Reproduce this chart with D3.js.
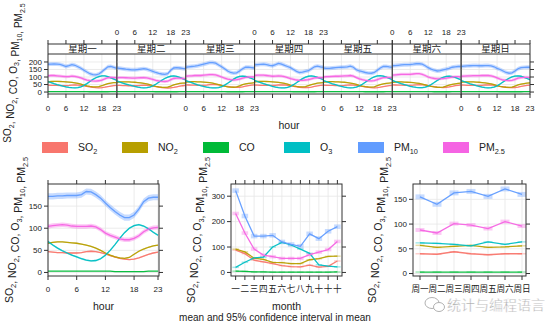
<!DOCTYPE html>
<html><head><meta charset="utf-8">
<script src="https://cdn.jsdelivr.net/npm/d3@7"></script>
<style>body{margin:0;background:#fff}svg{display:block;font-family:"Liberation Sans",Arial,sans-serif}</style>
</head><body><svg id="c" width="554" height="328"></svg>
<script>
const pollutants = ["SO2","NO2","CO","O3","PM10","PM2.5"];
const colors = ["#F8766D","#B79F00","#00BA38","#00BFC4","#619CFF","#F564E3"];
const dayLabels = ["星期一","星期二","星期三","星期四","星期五","星期六","星期日"];
const monthLabels = ["一","二","三","四","五","六","七","八","九","十","十","十"];
const weekdayLabels = ["周一","周二","周三","周四","周五","周六","周日"];
const hourTicks = [0,6,12,18,23];
const topYTicks = [0,50,100,150,200];
const hourYTicks = [0,50,100,150];
const monthYTicks = [0,100,200,300];
const weekdayYTicks = [0,50,100,150];

// day x hour (Mon..Sun, 0..23)
const dayHourSO2 = [
[46,45,44,44,43,43,43,44,46,47,46,44,41,37,34,31,29,28,29,32,36,40,43,45],
[45,44,43,43,42,42,42,43,45,46,45,43,40,36,33,30,28,27,28,31,35,39,42,44],
[48,47,46,46,45,45,45,46,49,50,49,47,44,40,37,34,32,31,32,35,39,43,46,48],
[47,46,45,45,44,44,44,45,47,48,47,45,42,38,35,32,30,29,30,33,37,41,44,46],
[46,45,44,44,43,43,43,44,46,47,46,44,41,37,34,31,29,28,29,32,36,40,43,45],
[48,47,46,46,45,45,45,46,48,49,48,46,43,39,36,33,31,30,31,34,38,42,45,47],
[47,46,45,45,44,44,44,45,47,48,47,45,42,38,35,32,30,29,30,33,37,41,44,46]];
const dayHourNO2 = [
[68,70,71,71,70,69,68,66,64,61,57,52,46,41,37,35,34,36,42,50,56,60,62,63],
[65,67,68,68,67,66,65,63,61,58,54,49,43,38,34,32,31,33,40,48,53,57,59,60],
[66,68,69,69,68,67,66,64,62,59,55,50,44,39,35,33,32,34,41,49,54,58,60,62],
[68,70,71,71,70,69,68,66,64,61,57,52,46,41,37,35,34,36,43,50,55,59,61,63],
[66,68,69,69,68,67,66,65,63,60,56,51,45,40,36,34,33,35,42,49,54,58,60,62],
[64,66,67,67,66,65,64,62,60,57,53,48,42,37,34,32,31,33,39,46,51,55,58,60],
[65,67,68,68,67,66,65,63,61,58,54,49,43,38,34,32,31,33,40,47,52,56,59,61]];
const dayHourCO = [
[3,3,3,3,3,3,3,3,3,3,3,3,3,3,2,2,2,2,2,2,2,3,3,3],
[3,3,3,3,3,3,3,3,3,3,3,3,3,2,2,2,2,2,2,2,2,3,3,3],
[3,3,3,3,3,3,3,3,3,3,3,3,3,3,2,2,2,2,2,2,3,3,3,3],
[3,3,3,3,3,3,3,3,3,3,3,3,3,2,2,2,2,2,2,2,2,3,3,3],
[3,3,3,3,3,3,3,3,3,3,3,3,3,3,2,2,2,2,2,2,2,3,3,3],
[3,3,3,3,3,3,3,3,3,3,3,3,3,3,2,2,2,2,2,2,3,3,3,3],
[3,3,3,3,3,3,3,3,3,3,3,3,3,2,2,2,2,2,2,2,2,3,3,3]];
const dayHourO3 = [
[70,63,56,50,45,40,35,31,29,28,30,35,44,56,70,84,95,103,108,108,102,94,86,78],
[74,66,59,53,47,42,37,33,30,28,29,33,41,52,65,78,90,99,105,107,104,97,89,80],
[76,69,62,55,48,42,37,33,30,28,28,30,36,46,58,72,86,97,104,106,104,98,90,82],
[77,70,63,56,50,44,38,33,30,28,28,31,38,49,62,76,89,99,105,107,104,98,90,82],
[76,69,62,55,49,43,38,33,30,28,29,33,41,52,65,79,92,101,107,109,106,99,91,83],
[77,70,63,56,50,44,38,34,31,29,29,32,39,50,63,77,89,98,104,106,103,97,89,81],
[76,69,62,55,49,43,38,33,30,28,29,33,41,53,67,80,92,101,106,108,105,98,90,82]];
const dayHourPM10 = [
[185,186,187,186,184,178,170,175,182,178,168,158,145,133,122,116,114,120,135,152,168,170,164,158],
[160,158,155,152,150,148,148,150,153,156,152,145,138,130,124,120,118,122,145,160,162,160,157,155],
[165,168,170,172,175,180,185,190,196,196,192,180,168,155,140,130,126,128,140,155,165,166,163,160],
[180,182,184,185,183,178,175,182,190,186,178,170,162,150,138,130,132,138,142,155,168,172,168,165],
[160,158,158,160,162,164,165,166,168,172,165,148,140,135,130,126,125,130,145,160,170,170,167,165],
[175,176,178,180,182,182,183,185,188,188,185,175,162,152,145,140,142,148,152,158,165,168,170,170],
[170,172,174,175,176,176,175,175,176,176,174,168,158,150,140,130,125,128,140,155,162,164,165,165]];
const dayHourPM25 = [
[108,110,110,108,106,104,102,103,106,104,100,94,86,80,76,74,73,75,80,88,95,97,96,95],
[95,96,96,95,94,93,93,94,95,96,94,90,84,78,74,71,70,72,82,90,92,92,90,88],
[105,107,108,110,110,110,112,114,116,116,114,108,100,92,86,82,80,82,86,92,98,100,100,100],
[110,112,112,112,110,108,105,106,108,106,102,96,90,85,80,78,78,80,82,88,94,96,95,95],
[100,102,103,104,105,105,106,107,108,110,106,96,88,82,78,75,74,76,82,90,96,98,96,95],
[112,114,116,118,118,118,118,120,122,122,118,110,100,94,90,88,88,90,92,96,100,102,102,100],
[105,106,107,108,109,109,109,110,110,110,108,102,94,86,80,78,76,78,84,92,96,98,98,96]];

// hour of day
const hourSO2 = [47,46,45,45,44,44,44,45,47,48,47,45,42,38,35,32,30,29,30,33,37,41,44,46];
const hourNO2 = [66,68,69,69,68,67,66,64,62,59,55,50,44,39,35,33,32,34,41,48,53,57,60,62];
const hourCO = [3,3,3,3,3,3,3,3,3,3,3,3,3,3,2,2,2,2,2,2,2,3,3,3];
const hourO3 = [70,62,55,49,44,39,35,31,28,26,27,31,39,50,63,77,90,100,106,108,105,99,91,84];
const hourPM10 = [172,172,173,173,174,174,174,176,183,182,176,168,157,147,138,130,124,124,130,143,160,168,170,170];
const hourPM25 = [104,106,107,108,107,105,104,104,104,105,103,97,89,84,80,76,74,74,77,83,92,98,101,102];

// month
const monthSO2 = [88,74,48,42,35,27,23,22,29,21,24,45];
const monthNO2 = [92,81,56,51,40,39,35,35,50,54,63,64];
const monthCO = [5,4,2,2,1,1,1,1,1,1,1,2];
const monthO3 = [20,40,57,60,100,118,108,92,75,30,25,22];
const monthPM10 = [322,222,143,143,146,120,110,103,152,133,162,180];
const monthPM25 = [232,155,92,68,62,55,55,55,70,80,90,122];

// weekday
const weekdaySO2 = [40,39,44,40,38,40,40];
const weekdayNO2 = [57,53,55,57,53,54,56];
const weekdayCO = [3,3,3,3,3,3,3];
const weekdayO3 = [62,61,59,56,64,59,64];
const weekdayPM10 = [155,140,163,166,156,171,160];
const weekdayPM25 = [88,82,101,98,91,105,96];

// CI half widths per pollutant
const ciDayHour = [3,4,0.5,5,13,10];
const ciHour = [1.5,1.5,0.3,2,7,5];
const ciMonth = [3,3,0.5,3,9,7];
const ciWeekday = [1.5,1.5,0.3,1.5,5,4];

const dayHourData = [dayHourSO2,dayHourNO2,dayHourCO,dayHourO3,dayHourPM10,dayHourPM25];
const hourData = [hourSO2,hourNO2,hourCO,hourO3,hourPM10,hourPM25];
const monthData = [monthSO2,monthNO2,monthCO,monthO3,monthPM10,monthPM25];
const weekdayData = [weekdaySO2,weekdayNO2,weekdayCO,weekdayO3,weekdayPM10,weekdayPM25];

const svg = d3.select("#c");
const ink = "#222", frame = "#333", gridC = "#e6e6e6";
const tickFont = 8;

function subText(sel, parts, fs){
  parts.forEach(p=>{
    if(p[1]){
      sel.append("tspan").attr("font-size",fs*0.7).attr("dy",fs*0.28).text(p[0]);
      sel.append("tspan").attr("dy",-fs*0.28).text("");
    } else sel.append("tspan").text(p[0]);
  });
}
const ylabParts = [["SO",0],["2",1],[", NO",0],["2",1],[", CO, O",0],["3",1],[", PM",0],["10",1],[", PM",0],["2.5",1]];
const legParts = [[["SO",0],["2",1]],[["NO",0],["2",1]],[["CO",0]],[["O",0],["3",1]],[["PM",0],["10",1]],[["PM",0],["2.5",1]]];

function yTitle(x,y,fs){
  const t = svg.append("text").attr("transform",`translate(${x},${y}) rotate(-90)`)
    .attr("text-anchor","middle").attr("font-size",fs).attr("fill",ink);
  subText(t, ylabParts, fs);
}

let clipId=0;
function clip(x0,y0,x1,y1){
  const id="cl"+(clipId++);
  svg.append("clipPath").attr("id",id).append("rect").attr("x",x0).attr("y",y0).attr("width",x1-x0).attr("height",y1-y0);
  return `url(#${id})`;
}

function drawSeries(g, xs, ys, xvals, series, ci, mode, boxW){
  series.forEach((vals,i)=>{
    if(mode==="band"){
      const area = d3.area().x((d,j)=>xs(xvals[j])).y0(d=>ys(d-ci[i])).y1(d=>ys(d+ci[i]));
      g.append("path").attr("d",area(vals)).attr("fill",colors[i]).attr("fill-opacity",0.35);
    } else {
      vals.forEach((v,j)=>{
        const h = Math.max(ys(v-ci[i])-ys(v+ci[i]),1.5);
        g.append("rect").attr("x",xs(xvals[j])-boxW/2).attr("y",ys(v)-h/2).attr("width",boxW).attr("height",h)
          .attr("fill",colors[i]).attr("fill-opacity",0.35);
      });
    }
  });
  series.forEach((vals,i)=>{
    const line = d3.line().x((d,j)=>xs(xvals[j])).y(d=>ys(d));
    g.append("path").attr("d",line(vals)).attr("fill","none").attr("stroke",colors[i])
      .attr("stroke-width",1.3).attr("stroke-opacity",0.95);
  });
}

const hours = d3.range(24);

// ---------- TOP PANEL ----------
const tL=48, tR=530, sTop=44, pTop=54, pBot=94;
const pw=(tR-tL)/7;
const yTop = d3.scaleLinear().domain([-13,253]).range([pBot,pTop]);
dayLabels.forEach((lab,d)=>{
  const x0=tL+d*pw, x1=x0+pw;
  const xs=d3.scaleLinear().domain([0,23]).range([x0,x1]);
  const g=svg.append("g");
  hourTicks.forEach(h=>g.append("line").attr("x1",xs(h)).attr("x2",xs(h)).attr("y1",pTop).attr("y2",pBot).attr("stroke",gridC).attr("stroke-width",0.8));
  topYTicks.forEach(v=>g.append("line").attr("x1",x0).attr("x2",x1).attr("y1",yTop(v)).attr("y2",yTop(v)).attr("stroke",gridC).attr("stroke-width",0.8));
  const gc=svg.append("g").attr("clip-path",clip(x0,pTop,x1,pBot));
  drawSeries(gc, xs, yTop, hours, dayHourData.map(s=>s[d]), ciDayHour, "band");
  svg.append("rect").attr("x",x0).attr("y",sTop).attr("width",pw).attr("height",pBot-sTop).attr("fill","none").attr("stroke",frame).attr("stroke-width",1);
  svg.append("line").attr("x1",x0).attr("x2",x1).attr("y1",pTop).attr("y2",pTop).attr("stroke",frame).attr("stroke-width",1);
  svg.append("text").attr("x",(x0+x1)/2).attr("y",pTop-1.8).attr("text-anchor","middle")
    .attr("font-family","'Noto Sans CJK SC',sans-serif").attr("font-size",9.5).attr("fill",ink).text(lab);
  hourTicks.forEach(h=>{
    svg.append("line").attr("x1",xs(h)).attr("x2",xs(h)).attr("y1",sTop).attr("y2",sTop-4).attr("stroke",frame);
    svg.append("line").attr("x1",xs(h)).attr("x2",xs(h)).attr("y1",pBot).attr("y2",pBot+4).attr("stroke",frame);
    if(d%2===1) svg.append("text").attr("x",xs(h)).attr("y",35).attr("text-anchor","middle").attr("font-size",tickFont).attr("fill",ink).text(h);
    else svg.append("text").attr("x",xs(h)).attr("y",111).attr("text-anchor","middle").attr("font-size",tickFont).attr("fill",ink).text(h);
  });
});
topYTicks.forEach(v=>{
  svg.append("line").attr("x1",tL).attr("x2",tL-4).attr("y1",yTop(v)).attr("y2",yTop(v)).attr("stroke",frame);
  svg.append("line").attr("x1",tR).attr("x2",tR+4).attr("y1",yTop(v)).attr("y2",yTop(v)).attr("stroke",frame);
  svg.append("text").attr("x",tL-6).attr("y",yTop(v)+2.8).attr("text-anchor","end").attr("font-size",tickFont).attr("fill",ink).text(v);
});
svg.append("text").attr("x",(tL+tR)/2).attr("y",129).attr("text-anchor","middle").attr("font-size",10.5).attr("fill",ink).text("hour");
yTitle(11,73,10);

// ---------- LEGEND ----------
const legX=[42,122,203,284,358,443];
pollutants.forEach((p,i)=>{
  svg.append("rect").attr("x",legX[i]).attr("y",142).attr("width",26).attr("height",11).attr("fill",colors[i]);
  const t=svg.append("text").attr("x",legX[i]+36).attr("y",151).attr("font-size",10.5).attr("fill",ink);
  subText(t, legParts[i], 10.5);
});

// ---------- BOTTOM PANELS ----------
const bTop=184, bBot=276;
function panel(x0,x1,xs,ys,xTicks,xLabels,yTicks,labelFont){
  xTicks.forEach(t=>svg.append("line").attr("x1",xs(t)).attr("x2",xs(t)).attr("y1",bTop).attr("y2",bBot).attr("stroke",gridC).attr("stroke-width",0.8));
  yTicks.forEach(v=>svg.append("line").attr("x1",x0).attr("x2",x1).attr("y1",ys(v)).attr("y2",ys(v)).attr("stroke",gridC).attr("stroke-width",0.8));
  const g=svg.append("g").attr("clip-path",clip(x0,bTop,x1,bBot));
  svg.append("rect").attr("x",x0).attr("y",bTop).attr("width",x1-x0).attr("height",bBot-bTop).attr("fill","none").attr("stroke",frame);
  xTicks.forEach((t,k)=>{
    svg.append("line").attr("x1",xs(t)).attr("x2",xs(t)).attr("y1",bBot).attr("y2",bBot+4).attr("stroke",frame);
    svg.append("line").attr("x1",xs(t)).attr("x2",xs(t)).attr("y1",bTop).attr("y2",bTop-4).attr("stroke",frame);
    const tx=svg.append("text").attr("x",xs(t)).attr("y",291.5).attr("text-anchor","middle").attr("font-size",labelFont||tickFont).attr("fill",ink).text(xLabels[k]);
    if(labelFont) tx.attr("font-family","'Noto Sans CJK SC',sans-serif");
  });
  yTicks.forEach(v=>{
    svg.append("line").attr("x1",x0).attr("x2",x0-4).attr("y1",ys(v)).attr("y2",ys(v)).attr("stroke",frame);
    svg.append("line").attr("x1",x1).attr("x2",x1+4).attr("y1",ys(v)).attr("y2",ys(v)).attr("stroke",frame);
    svg.append("text").attr("x",x0-6).attr("y",ys(v)+2.8).attr("text-anchor","end").attr("font-size",tickFont).attr("fill",ink).text(v);
  });
  return g;
}

// hour panel
{
  const x0=48,x1=159;
  const xs=d3.scaleLinear().domain([0,23]).range([48,158]);
  const ys=d3.scaleLinear().domain([-8,200]).range([bBot,bTop]);
  const g=panel(x0,x1,xs,ys,hourTicks,hourTicks,hourYTicks);
  drawSeries(g,xs,ys,hours,hourData,ciHour,"band");
  svg.append("text").attr("x",(x0+x1)/2).attr("y",310).attr("text-anchor","middle").attr("font-size",10.5).attr("fill",ink).text("hour");
  yTitle(13,230,10.5);
}
// month panel
{
  const x0=231,x1=342;
  const xs=d3.scaleLinear().domain([0.5,12.5]).range([x0,x1]);
  const ys=d3.scaleLinear().domain([-14,348]).range([bBot,bTop]);
  const months=d3.range(1,13);
  const g=panel(x0,x1,xs,ys,months,monthLabels,monthYTicks,8.6);
  drawSeries(g,xs,ys,months,monthData,ciMonth,"box",6.5);
  svg.append("text").attr("x",(x0+x1)/2).attr("y",310).attr("text-anchor","middle").attr("font-size",10.5).attr("fill",ink).text("month");
  yTitle(195,230,10.5);
}
// weekday panel
{
  const x0=413,x1=526;
  const xs=d3.scaleLinear().domain([1,7]).range([420,522]);
  const ys=d3.scaleLinear().domain([-5,181]).range([bBot,bTop]);
  const wd=d3.range(1,8);
  const g=panel(x0,x1,xs,ys,wd,weekdayLabels,weekdayYTicks,8.6);
  drawSeries(g,xs,ys,wd,weekdayData,ciWeekday,"box",9);
  yTitle(376,230,10.5);
}
svg.append("text").attr("x",275).attr("y",321).attr("text-anchor","middle").attr("font-size",10).attr("fill",ink).text("mean and 95% confidence interval in mean");

// watermark
const wm=svg.append("g").attr("opacity",0.75);
wm.append("ellipse").attr("cx",432).attr("cy",303).attr("rx",7).attr("ry",5.5).attr("fill","none").attr("stroke","#999").attr("stroke-width",1);
wm.append("ellipse").attr("cx",439).attr("cy",307).attr("rx",5.5).attr("ry",4.5).attr("fill","#fff").attr("stroke","#999").attr("stroke-width",1);
wm.append("text").attr("x",447).attr("y",310).attr("font-family","'Noto Sans CJK SC',sans-serif").attr("font-size",14)
  .attr("fill","#8a8a8a").attr("stroke","#fff").attr("stroke-width",0.4).text("统计与编程语言");
</script></body></html>
